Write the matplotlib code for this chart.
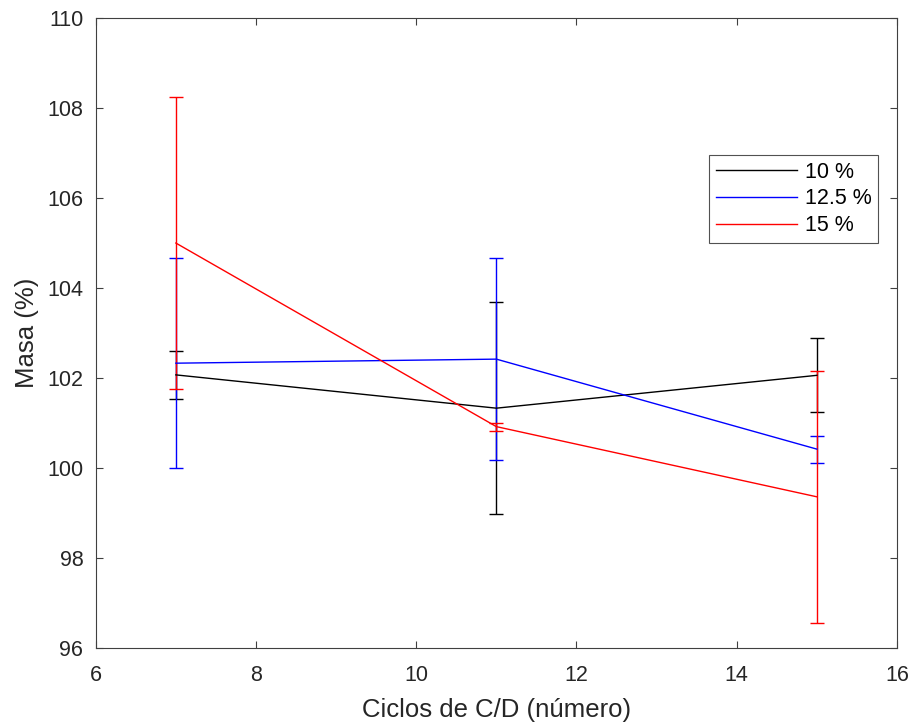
import matplotlib
matplotlib.use("Agg")
import matplotlib.pyplot as plt
from matplotlib.lines import Line2D

plt.rcParams['font.family'] = ['Liberation Sans', 'DejaVu Sans']

cycles = [7, 11, 15]
labels = ['10 %', '12.5 %', '15 %']
mass_10 = [102.07, 101.33, 102.06]
err_10 = [0.53, 2.35, 0.82]
mass_125 = [102.33, 102.42, 100.42]
err_125 = [2.34, 2.25, 0.30]
mass_15 = [105.00, 100.92, 99.36]
err_15 = [3.24, 0.09, 2.80]
colors = ['black', (0, 0, 1), (1, 0, 0)]

fig = plt.figure(figsize=(9.12, 7.24), dpi=100)
ax = fig.add_axes([0.105, 0.105, 0.8785, 0.870])

for y, e, c, lab in zip([mass_10, mass_125, mass_15], [err_10, err_125, err_15], colors, labels):
    ax.errorbar(cycles, y, yerr=e, color=c, lw=1.0, elinewidth=1.0,
                capsize=5.2, capthick=1.0, label=lab)

ax.set_xlim(6, 16)
ax.set_ylim(96, 110)
ax.set_xticks([6, 8, 10, 12, 14, 16])
ax.set_yticks([96, 98, 100, 102, 104, 106, 108, 110])
ax.tick_params(direction='in', top=True, right=True, length=5, width=0.8,
               colors='#404040', labelsize=15.5, labelcolor='#262626')
ax.tick_params(axis='x', pad=12)
ax.tick_params(axis='y', pad=9)
for s in ax.spines.values():
    s.set_color('#404040')
    s.set_linewidth(0.8)
ax.set_xlabel('Ciclos de C/D (número)', fontsize=18.5, color='#262626', labelpad=9)
ax.set_ylabel('Masa (%)', fontsize=18.5, color='#262626', labelpad=6)

hs = [Line2D([], [], color=c, lw=1.0) for c in colors]
leg = ax.legend(hs, labels, loc='upper right', bbox_to_anchor=(0.976, 0.7825),
                borderaxespad=0, fontsize=15.5, frameon=True, fancybox=False,
                edgecolor='#262626', handlelength=3.8, handletextpad=0.33,
                borderpad=0.3, labelspacing=0.27)
leg.get_frame().set_linewidth(0.8)

fig.savefig('out.png', dpi=100)
